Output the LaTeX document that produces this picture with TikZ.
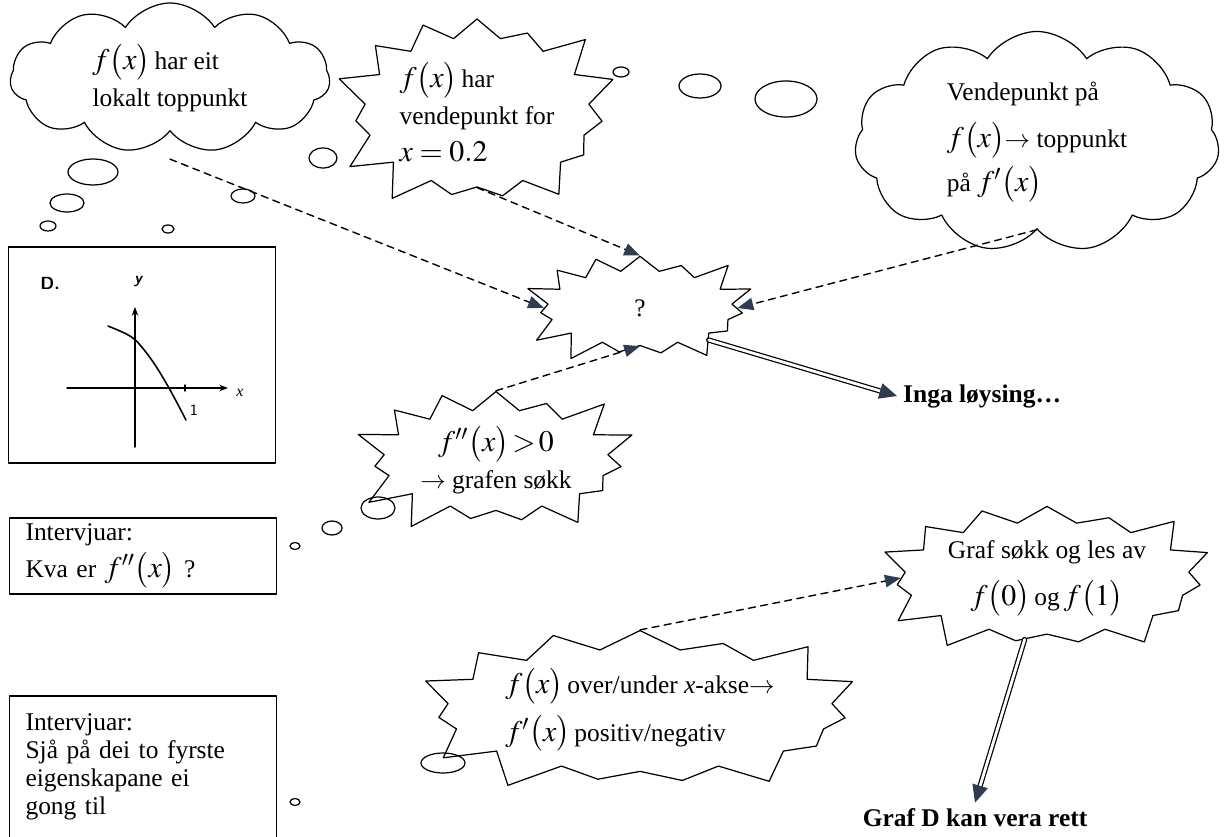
\documentclass[tikz,border=0pt]{standalone}
\usepackage{mathptmx}
\usepackage[no-math]{fontspec}
\setmainfont{Liberation Serif}
\usetikzlibrary{shapes.symbols,arrows.meta}
\definecolor{tipcol}{RGB}{45,60,78}
\newcommand{\stor}{\fontsize{17}{18}\selectfont}
\newcommand{\fval}[2][]{{\stor$f#1\bigl(#2\bigr)$}}
\tikzset{
  tanke/.style={cloud, cloud puffs=11, cloud puff arc=115, cloud ignores aspect, draw, line width=0.7pt, align=left},
  smell/.style={starburst, starburst points=15, starburst point height=0.7cm, random starburst=12, draw, line width=0.7pt, align=left, inner sep=1pt},
  boks/.style={draw, line width=0.9pt, align=left, text width=4.7cm, minimum width=5.34cm},
  dashpil/.style={dashed, line width=0.8pt, dash pattern=on 4pt off 3pt, -{Triangle[length=9pt,width=7pt,fill=tipcol,color=tipcol]}},
  dobbelpil/.style={double, double distance=1.6pt, line width=0.7pt, -{Triangle[length=10pt,width=9pt,fill=tipcol,color=tipcol]}}
}
\begin{document}
\begin{tikzpicture}[x=0.02cm, y=-0.02cm, font=\fontsize{14.5}{21}\selectfont, line join=round, line cap=round]
  \useasboundingbox (0,0) rectangle (1226,837);
  \pgfmathsetseed{11}
  \node[tanke, minimum width=6.4cm, minimum height=3.0cm] (topp) at (170,78)
    {\fval{x}\,har eit\\lokalt toppunkt};
  \node[smell, minimum width=5.9cm, minimum height=4.4cm] (vende) at (477,112)
    {\fval{x}\,har\\vendepunkt for\\{\stor$x=0.2$}};
  \node[tanke, minimum width=7.3cm, minimum height=4.1cm] (topf) at (1037,142)
    {Vendepunkt på\\[6pt]\fval{x}$\rightarrow$ toppunkt\\[4pt]på \fval[']{x}};
  \node[smell, minimum width=4.8cm, minimum height=2.6cm, starburst point height=0.55cm] (spm) at (640,308)
    {\Large ?};
  \node[smell, minimum width=5.9cm, minimum height=2.9cm, align=center] (krum) at (496,460)
    {\fval['']{x}{\stor$\,{>}\,0$}\\$\rightarrow$ grafen søkk};
  \node[smell, minimum width=6.4cm, minimum height=3.0cm, align=center, starburst point height=0.6cm] (les) at (1047,578)
    {Graf søkk og les av\\[6pt]\fval{0}\,og\,\fval{1}};
  \node[smell, minimum width=8.9cm, minimum height=3.4cm] (akse) at (640,710)
    {\fval{x}\,over/under \textit{x}-akse$\rightarrow$\\[6pt]\fval[']{x}\,positiv/negativ};
  \node[font=\fontsize{14.5}{16}\selectfont\bfseries, anchor=west] (inga) at (897,396) {Inga løysing\dots};
  \node[font=\fontsize{14.5}{16}\selectfont\bfseries] (rett) at (975,818) {Graf D kan vera rett};
  \node[boks, minimum height=4.32cm] (grafD) at (142,355) {};
  \node[boks] (kva) at (143,556) {Intervjuar:\\Kva er \fval['']{x} ?};
  \node[boks, minimum height=2.84cm, anchor=north, font=\fontsize{14.5}{16}\selectfont] (sja) at (143,695)
    {Intervjuar:\\Sjå på dei to fyrste\\eigenskapane ei\\gong til};
  \coordinate (toppfot) at ([yshift=-0.55cm]topp.south);
  \foreach \x/\y/\rx/\ry in {
    93/172/25/13, 67/203/17/9, 48/226/8/5, 168/229/6/4, 243/196/12/7,
    323/158/14/10, 621/72/8/5, 700/86/21/12, 786/99/31/18,
    378/508/17/11, 332/528/10/7, 295/546/5/3.5, 443/763/22/10, 295/802/5/3.5}
  {
    \draw[line width=0.7pt] (\x,\y) ellipse [x radius=\rx, y radius=\ry];
  }
  \draw[line width=0.8pt, -{Stealth[length=5pt]}] (67,388) -- (228,388);
  \draw[line width=0.8pt, -{Stealth[length=5pt]}] (135,447) -- (135,307);
  \draw[line width=0.8pt] (185,385) -- (185,391);
  \draw[line width=0.9pt] (108,326) .. controls (125,333) and (133,336) .. (140,345)
    .. controls (155,362) and (168,385) .. (186,420);
  \node[font=\sffamily\bfseries] at (50,283) {D.};
  \node[font=\sffamily\bfseries\itshape\small] at (138,282) {y};
  \node[font=\itshape\small] at (240,393) {x};
  \node[font=\sffamily\small] at (194,410) {1};
  \draw[dashpil] (toppfot) -- (spm.west);
  \draw[dashpil] (vende.south) -- (spm.north);
  \draw[dashpil] (topf.south) -- (spm.east);
  \draw[dashpil] (krum.north) -- (spm.south);
  \draw[dashpil] (akse.north) -- (les.west);
  \draw[dobbelpil] (spm.-25) -- (inga.west);
  \draw[dobbelpil] (les.250) -- (rett.north);
\end{tikzpicture}
\end{document}
